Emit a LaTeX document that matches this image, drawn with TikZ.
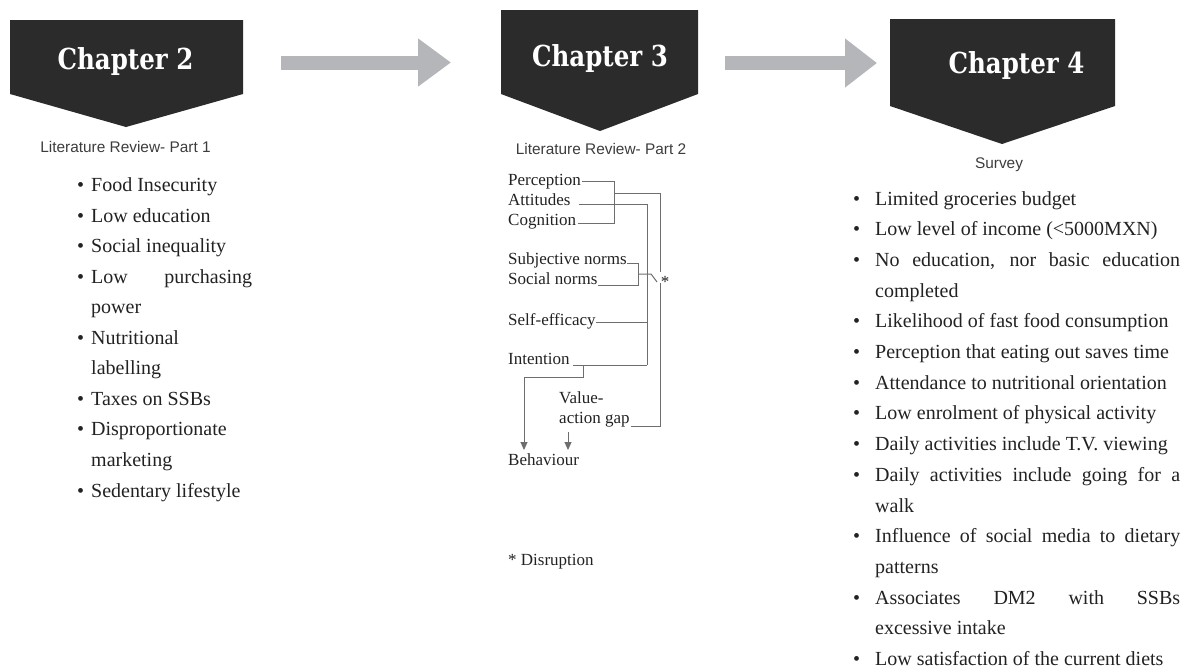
\documentclass[tikz,border=0pt]{standalone}
\usepackage{fontspec}
\setmainfont{Liberation Serif}
\newfontfamily\titlefont{DejaVu Serif}
\newfontfamily\subfont{Liberation Sans}
\usetikzlibrary{arrows.meta,calc}
\definecolor{bannerfill}{HTML}{2B2B2B}
\definecolor{flow}{HTML}{B5B6B9}
\definecolor{wirecol}{HTML}{6E6E6E}
\definecolor{subgray}{HTML}{3C3C3C}
\definecolor{bodytext}{HTML}{222222}

\begin{document}
\begin{tikzpicture}[x=1pt,y=-1pt,
  bannershape/.style={fill=bannerfill},
  title/.style={anchor=base, text=white, inner sep=0,
    font=\titlefont\bfseries\fontsize{24.5}{30}\selectfont},
  subtitle/.style={anchor=base, text=subgray, inner sep=0,
    font=\subfont\fontsize{15.4}{18}\selectfont},
  item/.style={anchor=base west, inner sep=0, text=bodytext,
    font=\fontsize{20}{24}\selectfont},
  model/.style={anchor=base west, inner sep=0, text=bodytext,
    font=\fontsize{17}{20}\selectfont},
  wire/.style={draw=wirecol, line width=1pt},
  tipped/.style={-{Triangle[length=8pt,width=7pt]}},
  flowarrow/.style={draw=flow, line width=14pt}
]
\useasboundingbox (0,0) rectangle (1185,670);

% ---------- chapter banners ----------
\fill[bannershape] (10,20) -- (243,20) -- (243,94) -- (126,127) -- (10,94) -- cycle;
\fill[bannershape] (501,10) -- (698,10) -- (698,94) -- (600,131) -- (501,94) -- cycle;
\fill[bannershape] (890,19) -- (1115,19) -- (1115,106) -- (1002,144) -- (890,106) -- cycle;

\node[title] (t2) at (125.5,69) {\scalebox{1}[1.18]{Chapter 2}};
\node[title] (t3) at (600,66) {\scalebox{1}[1.18]{Chapter 3}};
\node[title] (t4) at (1016.5,73) {\scalebox{1}[1.18]{Chapter 4}};

\node[subtitle] (s2) at (125.5,152.5) {Literature Review- Part 1};
\node[subtitle] (s3) at (601,154) {Literature Review- Part 2};
\node[subtitle] (s4) at (999,168) {Survey};

% ---------- flow arrows between chapters ----------
\coordinate (f1s) at (281,62.5);
\coordinate (f1e) at (451,62.5);
\coordinate (f2s) at (725,63);
\coordinate (f2e) at (877,63);
\draw[flowarrow,-{Triangle[length=33pt,width=46pt]}] (f1s) -- (f1e);
\draw[flowarrow,-{Triangle[length=32pt,width=47pt]}] (f2s) -- (f2e);

% ---------- chapter 2 list ----------
\node[item] (b2a) at (77,191.5) {\textbullet};
\node[item] (c2a) at (91,191.5) {Food Insecurity};
\node[item] (b2b) at (77,222) {\textbullet};
\node[item] (c2b) at (91,222) {Low education};
\node[item] (b2c) at (77,252.6) {\textbullet};
\node[item] (c2c) at (91,252.6) {Social inequality};
\node[item] (b2d) at (77,283.2) {\textbullet};
\node[item] (c2d) at (91,283.2) {\makebox[161pt][s]{Low purchasing}};
\node[item] (c2e) at (91,313.7) {power};
\node[item] (b2f) at (77,344.3) {\textbullet};
\node[item] (c2f) at (91,344.3) {Nutritional};
\node[item] (c2g) at (91,374.8) {labelling};
\node[item] (b2h) at (77,405.4) {\textbullet};
\node[item] (c2h) at (91,405.4) {Taxes on SSBs};
\node[item] (b2i) at (77,435.9) {\textbullet};
\node[item] (c2i) at (91,435.9) {Disproportionate};
\node[item] (c2j) at (91,466.5) {marketing};
\node[item] (b2k) at (77,497) {\textbullet};
\node[item] (c2k) at (91,497) {Sedentary lifestyle};

% ---------- chapter 4 list ----------
\node[item] (b4a) at (853,205) {\textbullet};
\node[item] (c4a) at (875,205) {Limited groceries budget};
\node[item] (b4b) at (853,235.7) {\textbullet};
\node[item] (c4b) at (875,235.7) {Low level of income (<5000MXN)};
\node[item] (b4c) at (853,266.4) {\textbullet};
\node[item] (c4c) at (875,266.4) {\makebox[305pt][s]{No education, nor basic education}};
\node[item] (c4d) at (875,297.1) {completed};
\node[item] (b4e) at (853,327.8) {\textbullet};
\node[item] (c4e) at (875,327.8) {Likelihood of fast food consumption};
\node[item] (b4f) at (853,358.5) {\textbullet};
\node[item] (c4f) at (875,358.5) {Perception that eating out saves time};
\node[item] (b4g) at (853,389.2) {\textbullet};
\node[item] (c4g) at (875,389.2) {Attendance to nutritional orientation};
\node[item] (b4h) at (853,419.9) {\textbullet};
\node[item] (c4h) at (875,419.9) {Low enrolment of physical activity};
\node[item] (b4i) at (853,450.6) {\textbullet};
\node[item] (c4i) at (875,450.6) {Daily activities include T.V. viewing};
\node[item] (b4j) at (853,481.3) {\textbullet};
\node[item] (c4j) at (875,481.3) {\makebox[305pt][s]{Daily activities include going for a}};
\node[item] (c4k) at (875,512) {walk};
\node[item] (b4l) at (853,542.7) {\textbullet};
\node[item] (c4l) at (875,542.7) {\makebox[305pt][s]{Influence of social media to dietary}};
\node[item] (c4m) at (875,573.4) {patterns};
\node[item] (b4n) at (853,604.1) {\textbullet};
\node[item] (c4n) at (875,604.1) {\makebox[305pt][s]{Associates DM2 with SSBs}};
\node[item] (c4o) at (875,634.8) {excessive intake};
\node[item] (b4p) at (853,665.5) {\textbullet};
\node[item] (c4p) at (875,665.5) {Low satisfaction of the current diets};

% ---------- chapter 3 behaviour model ----------
\node[model] (perc) at (508,185) {Perception};
\node[model] (att)  at (508,205) {Attitudes};
\node[model] (cog)  at (508,225) {Cognition};
\node[model] (subj) at (508,264) {Subjective norms};
\node[model] (soc)  at (508,284) {Social norms};
\node[model] (self) at (508,325.5) {Self-efficacy};
\node[model] (intn) at (508,364) {Intention};
\node[model] (val)  at (559,403) {Value-};
\node[model] (gap)  at (559,423) {action gap};
\node[model] (beh)  at (508,465) {Behaviour};
\node[model,anchor=base] (star) at (665,287) {*};
\node[model] (disr) at (508,565) {* Disruption};

\coordinate (jP)  at (614,193);
\coordinate (swT) at (660,272);
\coordinate (swB) at (660,283);
\coordinate (jA)  at (647,365);
\coordinate (jS)  at (638,274);
\coordinate (iD)  at (583,377);

% perception / cognition bracket
\draw[wire] ([xshift=1pt,yshift=4pt]perc.base east) -| (jP);
\draw[wire] (jP) |- ([xshift=2pt,yshift=2pt]cog.base east);
\draw[wire] (jP) -| (swT);
% attitudes, self-efficacy and intention rail
\draw[wire] ([xshift=8pt,yshift=1pt]att.base east) -| (jA);
\draw[wire] ([yshift=3.5pt]self.base east) -- ([yshift=3.5pt]self.base east -| jA);
\draw[wire] ([xshift=3pt,yshift=-1pt]intn.base east) -- (jA);
% norms bracket and the open switch
\draw[wire] ([yshift=1pt]subj.base east) -| (jS);
\draw[wire] (jS) |- ([yshift=-1pt]soc.base east);
\draw[wire] (jS) -- ++(13,0) -- ++(6,8);
\draw[wire] (swB) |- ([xshift=1pt,yshift=-3pt]gap.base east);
% arrows into behaviour
\draw[wire,tipped] (iD |- jA) -- (iD) -| ([xshift=16pt,yshift=3pt]beh.north west);
\draw[wire,tipped] ([xshift=9pt,yshift=-5pt]gap.south west) -- ([xshift=60pt,yshift=3pt]beh.north west);
\end{tikzpicture}
\end{document}
